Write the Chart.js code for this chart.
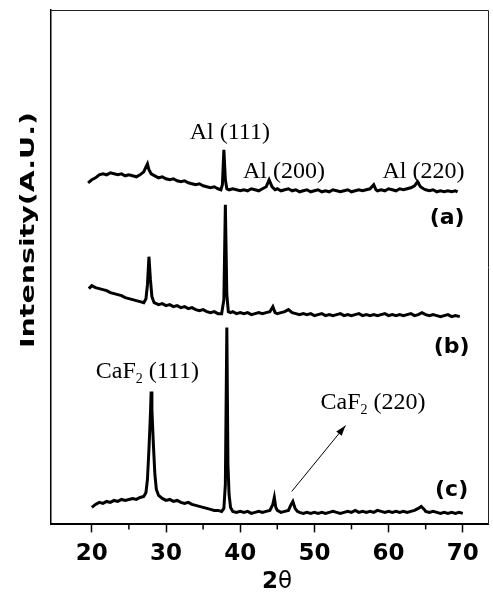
<!DOCTYPE html>
<html>
<head>
<meta charset="utf-8">
<script src="https://cdn.jsdelivr.net/npm/chart.js@4.4.1/dist/chart.umd.min.js"></script>
<style>
  html, body { margin: 0; padding: 0; background: #fff; }
  canvas { display: block; }
</style>
</head>
<body>
<canvas id="c" width="493" height="593"></canvas>
<script>
// ---- data (2θ in degrees, intensity in arbitrary offset units) ----
const xTicksMajor = [20, 30, 40, 50, 60, 70];
const xTicksMinor = [25, 35, 45, 55, 65];

const thetaA = [19.5,20,20.5,21,21.5,22,22.5,23,23.5,24,24.5,25,25.5,26,26.5,27,27.3,27.5,27.7,28,28.5,29,29.5,30,30.5,31,31.5,32,32.5,33,33.5,34,34.5,35,35.5,36,36.5,37,37.4,37.6,37.8,38.0,38.2,38.5,39,39.5,40,40.5,41,41.5,42,42.5,43,43.5,43.9,44.3,44.7,45,45.5,46,46.5,47,47.5,48,48.5,49,49.5,50,50.5,51,51.5,52,52.5,53,53.5,54,54.5,55,55.5,56,56.5,57,57.5,58,58.3,58.5,59,59.5,60,60.5,61,61.5,62,62.5,63,63.5,63.9,64.3,64.7,65,65.5,66,66.5,67,67.5,68,68.5,69,69.3];
const intensityA = [342,345,347,350,351,350,352,351,350,351,349,350,349,348,350,353,358,361,355,351,349,347,348,346,345,346,344,343,344,342,341,340,341,339,338,337,338,336,335,340,375,345,336,335,336,335,334,335,334,336,335,334,336,338,345,338,335,336,334,335,336,334,335,333,334,335,333,334,335,333,334,333,335,334,333,334,335,333,334,335,334,335,336,340,335,334,335,334,336,335,334,336,335,336,337,339,343,338,336,335,334,335,333,334,333,334,333,334,333];

const thetaB = [19.6,20,20.5,21,21.5,22,22.5,23,23.5,24,24.5,25,25.5,26,26.5,27,27.3,27.5,27.7,27.9,28.1,28.4,28.7,29,29.5,30,30.5,31,31.5,32,32.5,33,33.5,34,34.5,35,35.5,36,36.5,37,37.5,37.8,38.0,38.2,38.4,38.7,39,39.5,40,40.5,41,41.5,42,42.5,43,43.5,44,44.4,44.7,45,45.5,46,46.5,47,47.5,48,48.5,49,49.5,50,50.5,51,51.5,52,52.5,53,53.5,54,54.5,55,55.5,56,56.5,57,57.5,58,58.5,59,59.5,60,60.5,61,61.5,62,62.5,63,63.5,64,64.5,65,65.5,66,66.5,67,67.5,68,68.5,69,69.6];
const intensityB = [236,239,237,236,235,234,232,231,230,229,227,226,225,224,223,222,226,240,268,245,228,222,221,220,221,219,220,218,219,217,218,216,217,215,214,215,213,212,213,211,211,225,320,230,213,212,213,211,212,211,212,210,211,212,211,212,213,218,212,211,212,213,215,212,211,210,211,210,211,209,210,211,209,210,209,210,211,209,210,209,210,211,209,210,209,210,209,210,211,209,210,209,210,209,210,211,209,210,212,210,209,210,209,208,209,210,208,209,208];

const thetaC = [20,20.5,21,21.5,22,22.5,23,23.5,24,24.5,25,25.5,26,26.5,27,27.3,27.5,27.7,27.9,28.0,28.1,28.3,28.5,28.7,29,29.5,30,30.5,31,31.5,32,32.5,33,33.5,34,34.5,35,35.5,36,36.5,37,37.5,37.8,38.0,38.2,38.35,38.5,38.7,39,39.5,40,40.5,41,41.5,42,42.5,43,43.5,44,44.4,44.6,44.8,45,45.5,46,46.5,46.8,47.1,47.4,47.7,48,48.5,49,49.5,50,50.5,51,51.5,52,52.5,53,53.5,54,54.5,55,55.5,56,56.5,57,57.5,58,58.5,59,59.5,60,60.5,61,61.5,62,62.5,63,63.5,64,64.4,64.8,65,65.5,66,66.5,67,67.5,68,68.5,69,69.5,70];
const intensityC = [17,20,22,21,23,22,24,23,25,24,25,26,25,27,28,32,45,75,110,133,115,80,50,35,29,26,24,25,23,24,22,21,22,20,19,18,17,16,15,14,14,13,16,40,197,60,30,17,13,12,13,12,13,11,12,13,12,13,14,20,27,17,14,12,13,14,19,23,16,13,12,11,12,11,12,11,12,11,12,13,12,11,12,13,12,14,12,13,12,13,12,14,13,12,13,12,13,12,13,12,13,14,16,18,15,13,12,13,12,11,12,11,12,11,12,11];

const peakLabels = [
  { text: 'Al (111)', x: 38.6, y: 386 },
  { text: 'Al (200)', x: 45.9, y: 347 },
  { text: 'Al (220)', x: 64.7, y: 347 }
];
const caf2Labels = [
  { hkl: '(111)', x: 27.5, y: 147 },
  { hkl: '(220)', x: 57.9, y: 116 }
];
const sampleLabels = [
  { text: '(a)', x: 67.9, y: 306 },
  { text: '(b)', x: 68.5, y: 177 },
  { text: '(c)', x: 68.5, y: 34 }
];
const arrowFrom = { x: 46.95, y: 33 };
const arrowTo = { x: 54.2, y: 99 };

const toPts = (xs, ys) => xs.map((x, i) => ({ x: x, y: ys[i] }));

const annot = {
  id: 'annot',
  afterDraw(chart) {
    const ctx = chart.ctx;
    const xs = chart.scales.x, ys = chart.scales.y;
    const a = chart.chartArea;
    ctx.save();
    // top & right frame
    ctx.strokeStyle = '#222';
    ctx.lineWidth = 1;
    ctx.beginPath();
    ctx.moveTo(a.left, a.top + 0.5);
    ctx.lineTo(a.right + 0.5, a.top + 0.5);
    ctx.lineTo(a.right + 0.5, a.bottom);
    ctx.stroke();
    // minor ticks
    ctx.strokeStyle = '#000';
    ctx.lineWidth = 1.5;
    xTicksMinor.forEach(v => {
      const px = xs.getPixelForValue(v);
      ctx.beginPath();
      ctx.moveTo(px, a.bottom);
      ctx.lineTo(px, a.bottom + 5);
      ctx.stroke();
    });
    ctx.fillStyle = '#000';
    const big = '24px "Liberation Serif"', small = '14px "Liberation Serif"';
    // Al labels
    ctx.font = big;
    ctx.textAlign = 'center';
    ctx.textBaseline = 'alphabetic';
    peakLabels.forEach(l => {
      ctx.fillText(l.text, xs.getPixelForValue(l.x), ys.getPixelForValue(l.y));
    });
    // CaF2 labels with subscript
    caf2Labels.forEach(l => {
      ctx.font = big;
      const w1 = ctx.measureText('CaF').width;
      const w3 = ctx.measureText(' ' + l.hkl).width;
      ctx.font = small;
      const w2 = ctx.measureText('2').width;
      const total = w1 + w2 + w3;
      const px = xs.getPixelForValue(l.x) - total / 2;
      const py = ys.getPixelForValue(l.y);
      ctx.textAlign = 'left';
      ctx.font = big;
      ctx.fillText('CaF', px, py);
      ctx.font = small;
      ctx.fillText('2', px + w1, py + 5);
      ctx.font = big;
      ctx.fillText(' ' + l.hkl, px + w1 + w2, py);
    });
    // sample labels
    ctx.font = 'bold 22px "DejaVu Sans"';
    ctx.textAlign = 'center';
    ctx.textBaseline = 'middle';
    sampleLabels.forEach(l => {
      ctx.fillText(l.text, xs.getPixelForValue(l.x), ys.getPixelForValue(l.y));
    });
    // arrow
    const x1 = xs.getPixelForValue(arrowFrom.x), y1 = ys.getPixelForValue(arrowFrom.y);
    const x2 = xs.getPixelForValue(arrowTo.x), y2 = ys.getPixelForValue(arrowTo.y);
    ctx.lineWidth = 1;
    ctx.beginPath();
    ctx.moveTo(x1, y1);
    ctx.lineTo(x2, y2);
    ctx.stroke();
    const ang = Math.atan2(y2 - y1, x2 - x1);
    ctx.beginPath();
    ctx.moveTo(x2, y2);
    ctx.lineTo(x2 - 11 * Math.cos(ang - 0.32), y2 - 11 * Math.sin(ang - 0.32));
    ctx.lineTo(x2 - 11 * Math.cos(ang + 0.32), y2 - 11 * Math.sin(ang + 0.32));
    ctx.closePath();
    ctx.fill();
    // y title
    ctx.save();
    ctx.translate(29, 230);
    ctx.rotate(-Math.PI / 2);
    ctx.font = 'bold 19px "DejaVu Sans"';
    const yt = 'Intensity(A.U.)';
    const sx = 236 / ctx.measureText(yt).width;
    ctx.scale(sx, 1);
    ctx.textAlign = 'center';
    ctx.textBaseline = 'middle';
    ctx.fillText(yt, 0, 0);
    ctx.restore();
    // x title 2θ
    ctx.textBaseline = 'middle';
    ctx.textAlign = 'left';
    ctx.font = 'bold 23px "DejaVu Sans"';
    const w2 = ctx.measureText('2').width;
    ctx.font = '23px "DejaVu Sans"';
    const wt = ctx.measureText('θ').width;
    const cx = 277 - (w2 + wt) / 2;
    ctx.font = 'bold 23px "DejaVu Sans"';
    ctx.fillText('2', cx, 582);
    ctx.font = '23px "DejaVu Sans"';
    ctx.fillText('θ', cx + w2, 582);
    ctx.restore();
  }
};

const lineStyle = { borderColor: '#000', borderWidth: 3, pointRadius: 0, tension: 0, fill: false };

new Chart(document.getElementById('c'), {
  type: 'line',
  data: {
    datasets: [
      Object.assign({ label: '(a)', data: toPts(thetaA, intensityA) }, lineStyle),
      Object.assign({ label: '(b)', data: toPts(thetaB, intensityB) }, lineStyle),
      Object.assign({ label: '(c)', data: toPts(thetaC, intensityC) }, lineStyle)
    ]
  },
  options: {
    responsive: false,
    animation: false,
    devicePixelRatio: 1,
    layout: { padding: { left: 51, right: 5, top: 10, bottom: 17 } },
    plugins: { legend: { display: false }, tooltip: { enabled: false } },
    scales: {
      x: {
        type: 'linear',
        min: 14.5,
        max: 73.4,
        afterBuildTicks: s => { s.ticks = xTicksMajor.map(v => ({ value: v })); },
        ticks: {
          color: '#000',
          padding: 8,
          maxRotation: 0,
          font: { family: '"DejaVu Sans"', size: 23, weight: 'bold' }
        },
        grid: { drawOnChartArea: false, drawTicks: true, tickLength: 8, tickWidth: 1.5, tickColor: '#000' },
        border: { display: true, color: '#000', width: 2 }
      },
      y: {
        type: 'linear',
        min: 0,
        max: 515,
        ticks: { display: false },
        grid: { display: false, drawTicks: false },
        border: { display: true, color: '#000', width: 1.5 }
      }
    }
  },
  plugins: [annot]
});
</script>
</body>
</html>
